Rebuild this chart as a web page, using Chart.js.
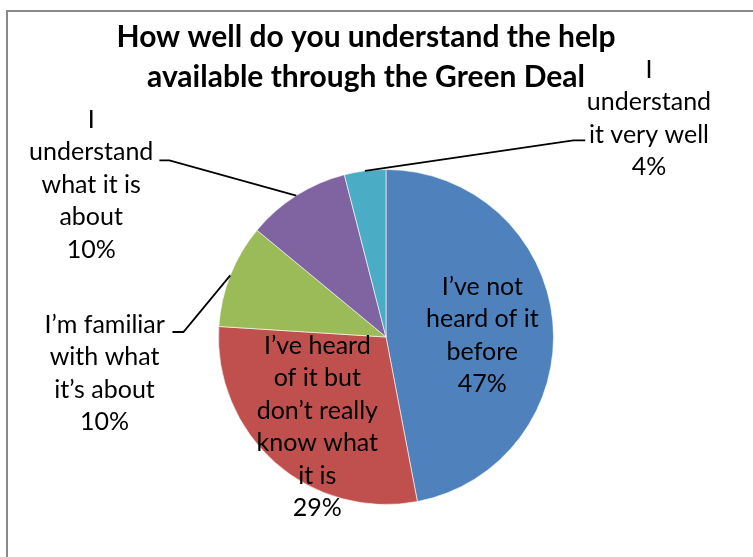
<!DOCTYPE html>
<html>
<head>
<meta charset="utf-8">
<script src="https://cdn.jsdelivr.net/npm/chart.js@4"></script>
<style>
  html, body { margin: 0; padding: 0; background: #fff; }
  #wrap { width: 753px; height: 557px; position: relative; }
</style>
</head>
<body>
<div id="wrap"><canvas id="pie"></canvas></div>
<script>
const titleLines = ['How well do you understand the help', 'available through the Green Deal'];
const categories = [
  'I’ve not heard of it before',
  'I’ve heard of it but don’t really know what it is',
  'I’m familiar with what it’s about',
  'I understand what it is about',
  'I understand it very well'
];
const values = [47, 29, 10, 10, 4];
// label text as Excel wrapped it
const labelLines = [
  ['I’ve not', 'heard of it', 'before'],
  ['I’ve heard', 'of it but', 'don’t really', 'know what', 'it is'],
  ['I’m familiar', 'with what', 'it’s about'],
  ['I', 'understand', 'what it is', 'about'],
  ['I', 'understand', 'it very well']
];
const colors = ['#4F81BD', '#C0504D', '#9BBB59', '#8064A2', '#4BACC6'];

const FONT = 'Lato, "Open Sans", sans-serif';

// label block centres and leader anchors, in pie radii from the centre
const labelPos = [
  { x: 0.575, y: -0.01 },
  { x: -0.41, y: 0.536 },
  { x: -1.68, y: 0.219, ax: -1.275, ay: -0.03, knee: 11 },
  { x: -1.76, y: -0.91, ax: -1.353, ay: -1.054, knee: 10 },
  { x: 1.57, y: -1.305, ax: 1.19, ay: -1.174, knee: -12 }
];

const labelPlugin = {
  id: 'pieLabels',
  beforeDraw(chart) {
    const ctx = chart.ctx;
    ctx.save();
    ctx.strokeStyle = '#8a8a8a';
    ctx.lineWidth = 2;
    ctx.strokeRect(7, 11, 900, 700);
    ctx.restore();
  },
  afterDatasetsDraw(chart) {
    const ctx = chart.ctx;
    const arcs = chart.getDatasetMeta(0).data;
    const total = values.reduce((a, b) => a + b, 0);
    const cx = arcs[0].x, cy = arcs[0].y, r = arcs[0].outerRadius;
    ctx.save();

    // title
    ctx.fillStyle = '#000';
    ctx.font = 'bold 30px ' + FONT;
    ctx.textAlign = 'center';
    ctx.textBaseline = 'middle';
    titleLines.forEach((t, i) => ctx.fillText(t, 366, 37 + i * 40));

    arcs.forEach((arc, i) => {
      const p = labelPos[i];
      if (p.ax !== undefined) {
        const mid = (arc.startAngle + arc.endAngle) / 2;
        const sx = cx + Math.cos(mid) * r, sy = cy + Math.sin(mid) * r;
        const ex = cx + p.ax * r, ey = cy + p.ay * r;
        ctx.beginPath();
        ctx.strokeStyle = '#000';
        ctx.lineWidth = 1.8;
        ctx.moveTo(sx, sy);
        ctx.lineTo(ex + p.knee, ey);
        ctx.lineTo(ex, ey);
        ctx.stroke();
      }
      const lines = labelLines[i].concat(Math.round(values[i] / total * 100) + '%');
      const lh = 32.5;
      const bx = cx + p.x * r, by = cy + p.y * r;
      const y0 = by - (lines.length - 1) * lh / 2;
      ctx.font = '25px ' + FONT;
      ctx.fillStyle = '#000';
      ctx.textAlign = 'center';
      ctx.textBaseline = 'middle';
      lines.forEach((t, k) => ctx.fillText(t, bx, y0 + k * lh));
    });
    ctx.restore();
  }
};

new Chart(document.getElementById('pie'), {
  type: 'pie',
  data: {
    labels: categories,
    datasets: [{
      data: values,
      backgroundColor: colors,
      borderColor: 'rgba(255,255,255,0.6)',
      borderWidth: 1
    }]
  },
  options: {
    responsive: true,
    maintainAspectRatio: false,
    animation: false,
    layout: { padding: { left: 218, right: 199, top: 169, bottom: 52 } },
    plugins: {
      legend: { display: false },
      title: { display: false },
      tooltip: { enabled: false }
    }
  },
  plugins: [labelPlugin]
});
</script>
</body>
</html>
